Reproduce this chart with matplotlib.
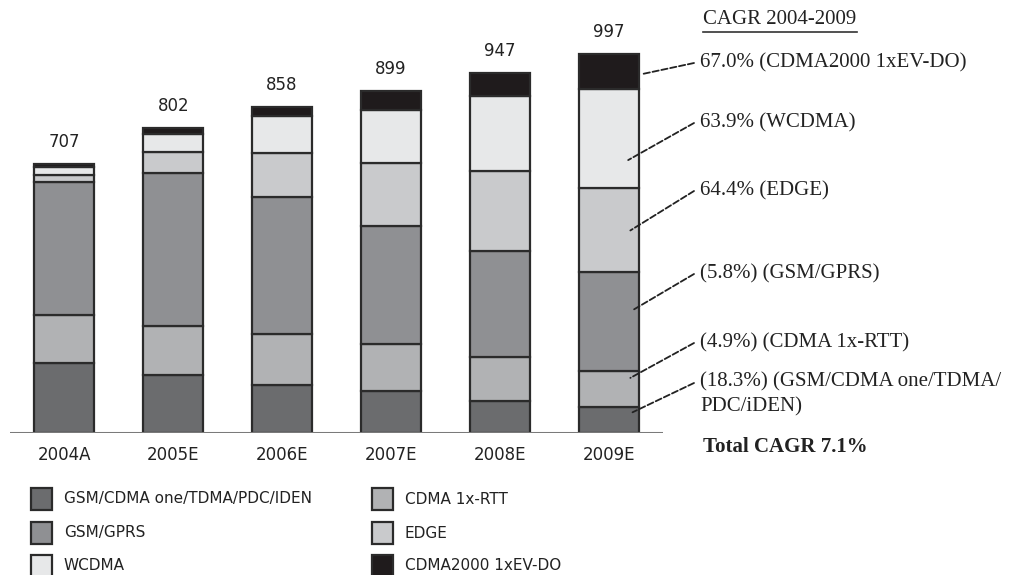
import matplotlib
matplotlib.use("Agg")
import matplotlib.pyplot as plt
from matplotlib.patches import Rectangle
import numpy as np

# market size by technology
years = ['2004A', '2005E', '2006E', '2007E', '2008E', '2009E']
totals = [707, 802, 858, 899, 947, 997]
gsm_cdma_one = [185, 153, 127, 110, 85, 68]
cdma_rtt = [125, 127, 133, 123, 115, 96]
gsm_gprs = [350, 402, 359, 311, 279, 260]
edge = [18, 57, 116, 165, 210, 221]
wcdma = [22, 47, 98, 139, 196, 258]
evdo = [7, 16, 25, 51, 62, 94]

series_names = ['GSM/CDMA one/TDMA/PDC/IDEN', 'CDMA 1x-RTT', 'GSM/GPRS',
                'EDGE', 'WCDMA', 'CDMA2000 1xEV-DO']
cagr_labels = ['(18.3%) (GSM/CDMA one/TDMA/\nPDC/iDEN)', '(4.9%) (CDMA 1x-RTT)',
               '(5.8%) (GSM/GPRS)', '64.4% (EDGE)', '63.9% (WCDMA)',
               '67.0% (CDMA2000 1xEV-DO)']
series = [gsm_cdma_one, cdma_rtt, gsm_gprs, edge, wcdma, evdo]
colors = ['#6b6c6e', '#b1b2b4', '#8f9093', '#c9cacc', '#e7e8e9', '#1f1b1c']
edgec = '#2b2b2b'

W, H = 1011, 575
fig = plt.figure(figsize=(W / 100, H / 100), dpi=100)
ax = fig.add_axes([10 / W, (H - 433) / H, 653 / W, 413 / H])

x = np.arange(len(years))
bottom = np.zeros(len(years))
for vals, col in zip(series, colors):
    ax.bar(x, vals, 0.55, bottom=bottom, color=col, edgecolor=edgec, linewidth=1.6, zorder=2)
    bottom += np.array(vals)

for xi, t in zip(x, totals):
    ax.annotate(str(t), (xi, t), xytext=(0, 9), textcoords='offset points',
                ha='center', va='bottom', fontsize=12, color='#222222',
                family='DejaVu Sans')

ax.set_xlim(-0.5, 5.5)
ax.set_ylim(0, 413 / 0.3805)
ax.axhline(0, color='#7a7a7a', lw=2.2, zorder=3)
for s in ax.spines.values():
    s.set_visible(False)
ax.set_yticks([])
ax.set_xticks(x)
ax.set_xticklabels(years, fontsize=12, family='DejaVu Sans', color='#222222')
ax.tick_params(axis='x', length=0, pad=9)

# CAGR callouts on the last bar
anchor_frac = [0.8, 0.8, 0.61, 0.49, 0.28, 0.43]
anchor_dx = [0.22, 0.2, 0.22, 0.2, 0.18, 0.31]
text_y = [383, 343, 274, 191, 123, 63]
serif = 'Liberation Serif'
last = len(years) - 1
cum = 0
for vals, lab, fr, dx, ty in zip(series, cagr_labels, anchor_frac, anchor_dx, text_y):
    v = vals[last]
    ay = cum + fr * v
    cum += v
    txt_y = (H - ty) / H
    ax.annotate('', xy=(last + dx, ay), xytext=(694 / W, txt_y),
                textcoords='figure fraction',
                arrowprops=dict(arrowstyle='-', color='#222222', lw=1.3,
                                linestyle=(0, (3.5, 1.5)), shrinkA=0, shrinkB=0))
    if '\n' in lab:
        fig.text(700 / W, (H - ty + 11) / H, lab, fontsize=15, family=serif,
                 color='#222222', va='top', linespacing=1.4)
    else:
        fig.text(700 / W, txt_y, lab, fontsize=15, family=serif,
                 color='#222222', va='center')

fig.text(703 / W, (H - 20) / H, 'CAGR 2004-2009', fontsize=15, family=serif,
         color='#222222', va='center')
fig.add_artist(plt.Line2D([703 / W, 857 / W], [(H - 32) / H] * 2, color='#333333',
                          lw=1.2, transform=fig.transFigure))
fig.text(703 / W, (H - 447) / H, 'Total CAGR 7.1%', fontsize=15, family=serif,
         color='#222222', va='center', fontweight='bold')

# legend
leg_order = [0, 2, 4, 1, 3, 5]
col_x = [31, 372]
row_y = [499, 533, 566]
for k, idx in enumerate(leg_order):
    cx = col_x[k // 3]
    ry = row_y[k % 3]
    fig.add_artist(Rectangle((cx / W, (H - ry - 11) / H), 21 / W, 22 / H,
                             facecolor=colors[idx], edgecolor=edgec, lw=1.6,
                             transform=fig.transFigure))
    fig.text((cx + 33) / W, (H - ry) / H, series_names[idx], fontsize=11,
             family='DejaVu Sans', color='#222222', va='center')

fig.savefig('out.png', dpi=100, facecolor='white')
